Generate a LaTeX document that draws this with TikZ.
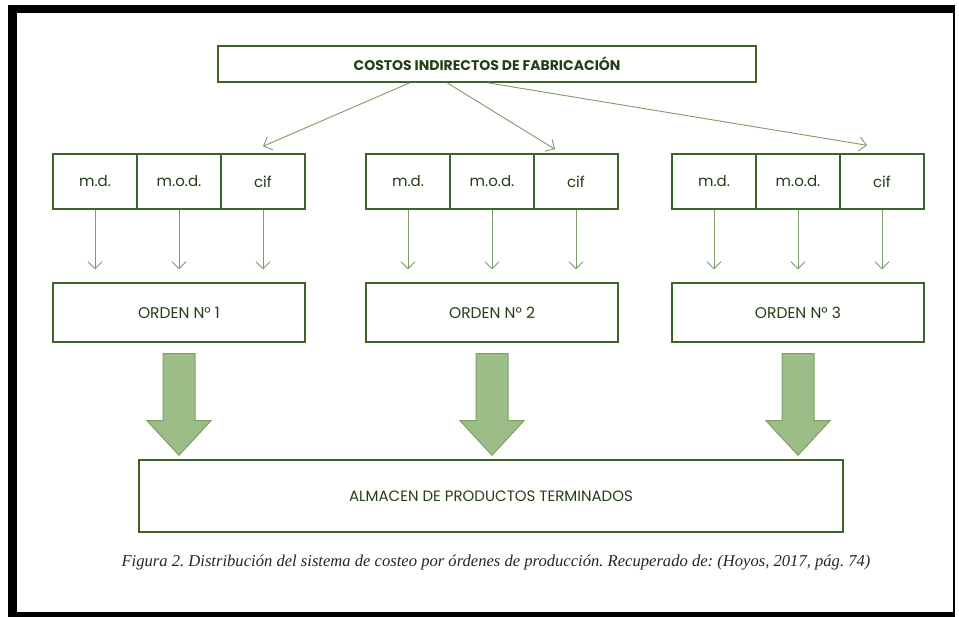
\documentclass[tikz,border=0pt]{standalone}
\usepackage{fontspec}
\setmainfont{Poppins}
\newfontfamily\capfont{Liberation Serif}
\usetikzlibrary{arrows.meta,calc}
\definecolor{txtgreen}{HTML}{243F17}
\definecolor{boxgreen}{HTML}{3F6229}
\definecolor{thingreen}{HTML}{7D9C68}
\definecolor{fillgreen}{HTML}{9DBD86}
\definecolor{edgegreen}{HTML}{7F9F68}
\tikzset{
  box/.style={draw=boxgreen, line width=1.4pt, fill=white, inner sep=0pt,
    text=txtgreen, font=\fontsize{15}{17}\selectfont},
  topbox/.style={box, minimum width=538pt, minimum height=36pt,
    font=\fontsize{14}{16}\selectfont\bfseries},
  cell/.style={box, minimum width=84pt, minimum height=55pt},
  ordbox/.style={box, minimum width=252pt, minimum height=59pt,
    font=\fontsize{15.5}{17}\selectfont},
  storebox/.style={box, minimum width=704pt, minimum height=72pt},
  thinarrow/.style={draw=thingreen, line width=0.9pt,
    -{Straight Barb[length=7pt,width=14pt,line width=0.9pt]}},
  bigarrow/.style={fill=fillgreen, draw=edgegreen, line width=1pt, line join=miter},
}
\begin{document}
\frenchspacing
\begin{tikzpicture}[x=1pt,y=-1pt]
  \useasboundingbox (0,0) rectangle (959,617);
  \fill[white] (0,0) rectangle (959,617);
  % page frame
  \fill[black] (8,5) rectangle (955,13);
  \fill[black] (8,5) rectangle (17,617);
  \fill[black] (952.5,5) rectangle (955,617);
  \fill[black] (8,611.5) rectangle (955,617);

  % header
  \node[topbox] (cif) at (487,64) {COSTOS INDIRECTOS DE FABRICACIÓN};

  % three orders, each with its cost cells
  \foreach \g/\x in {1/53,2/366,3/672}{
    \node[cell] (c\g1) at (\x+42,181.5) {m.d.};
    \node[cell] (c\g2) at (\x+126,181.5) {m.o.d.};
    \node[cell] (c\g3) at (\x+210,181.5) {cif};
    \node[ordbox] (o\g) at (\x+126,312.5) {ORDEN N\textdegree\ \g};
    \foreach \k in {1,2,3}{
      \draw[thinarrow, shorten >=13pt] (c\g\k.south) -- (c\g\k.south |- o\g.north);
    }
  }

  % finished goods store
  \node[storebox] (alm) at (491,496) {ALMACEN DE PRODUCTOS TERMINADOS};

  % distribution of indirect costs
  \draw[thinarrow] ($(cif.south)+(-77,0)$) -- ($(c13.north)+(0,-7)$);
  \draw[thinarrow] ($(cif.south)+(-40,0)$) -- ($(c23.north)+(-21,-4)$);
  \draw[thinarrow] (cif.south) -- ($(c33.north)+(-15,-8)$);

  % block arrows into the store
  \foreach \g in {1,2,3}{
    \path[bigarrow]
      ($(o\g.south)+(-16,11)$) -- ($(o\g.south)+(16,11)$)
      -- ($(o\g.south)+(16,78)$) -- ($(o\g.south)+(32,78)$)
      -- ($(o\g.south |- alm.north)+(0,-4)$)
      -- ($(o\g.south)+(-32,78)$) -- ($(o\g.south)+(-16,78)$) -- cycle;
  }

  % caption
  \node[font=\capfont\itshape\fontsize{16.6}{18}\selectfont, text=black!85] (cap) at (496,563)
    {Figura 2. Distribución del sistema de costeo por órdenes de producción. Recuperado de: (Hoyos, 2017, pág. 74)};
\end{tikzpicture}
\end{document}
